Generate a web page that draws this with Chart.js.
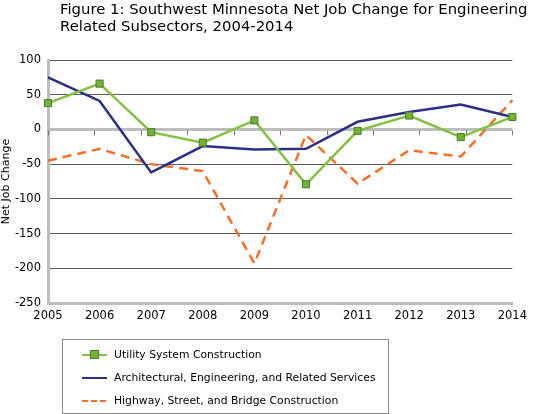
<!DOCTYPE html>
<html>
<head>
<meta charset="utf-8">
<script src="https://cdn.jsdelivr.net/npm/chart.js@4"></script>
<style>
    body { margin: 0; background: #fff; font-family: 'DejaVu Sans', Verdana, sans-serif; }
    #wrap { position: relative; width: 533px; height: 414px; }
    #title { position: absolute; left: 60px; top: 1px; font-size: 14.85px; line-height: 17px; color: #000; }
    #legend { position: absolute; left: 62px; top: 339px; width: 325px; height: 73px; border: 1px solid #888; }
    .row { position: absolute; left: 0; height: 20px; font-size: 10.8px; color: #000; }
    .row span.txt { position: absolute; left: 51px; top: 3px; white-space: nowrap; }
    .sample { position: absolute; left: 19px; top: 9px; width: 25px; height: 0; }
</style>
</head>
<body>
<div id="wrap">
    <canvas id="chart" width="533" height="414"></canvas>
    <div id="title">Figure 1: Southwest Minnesota Net Job Change for Engineering<br>Related Subsectors, 2004-2014</div>
    <div id="legend"></div>
</div>
<script>
const YEARS = ['2005', '2006', '2007', '2008', '2009', '2010', '2011', '2012', '2013', '2014'];

const UTILITY = [38, 66, -4, -19, 13, -79, -2, 20, -11, 18];
const ARCHITECTURAL = [75, 41, -62, -24, -29, -28, 11, 25, 36, 18];
const HIGHWAY = [-45, -28, -50, -60, -193, -8, -78, -30, -39, 42];

const SERIES_NAMES = [
    'Utility System Construction',
    'Architectural, Engineering, and Related Services',
    'Highway, Street, and Bridge Construction'
];

const Y_MIN = -250;
const Y_MAX = 100;
const Y_STEP = 50;

const GREEN = '#84c041';
const GREEN_MARK = '#72b236';
const GREEN_EDGE = '#4e7a2c';
const BLUE = '#2b2f86';
const ORANGE = '#f36f2a';
const AXIS_GRAY = '#bdbdbd';

Chart.defaults.font.family = "'DejaVu Sans', Verdana, sans-serif";
Chart.defaults.color = '#000';

// small tick marks hanging off the zero line, like the original
const zeroTicks = {
    id: 'zeroTicks',
    beforeDatasetsDraw(chart) {
        var ctx = chart.ctx;
        var x = chart.scales.x;
        var y0 = chart.scales.y.getPixelForValue(0);
        ctx.save();
        ctx.strokeStyle = '#777';
        ctx.lineWidth = 1;
        for (let i = 0; i <= 10; i++) {
            var px = Math.round(x.left + i * (x.right - x.left) / 10) + 0.5;
            ctx.beginPath();
            ctx.moveTo(px, y0 + 1);
            ctx.lineTo(px, y0 + 6);
            ctx.stroke();
        }
        ctx.restore();
    }
};

var ctx = document.getElementById('chart').getContext('2d');
var chart = new Chart(ctx, {
    type: 'line',
    data: {
        labels: YEARS,
        datasets: [{
            label: SERIES_NAMES[0],
            data: UTILITY,
            borderColor: GREEN,
            borderWidth: 2.5,
            pointStyle: 'rect',
            pointRadius: 5,
            pointBackgroundColor: GREEN_MARK,
            pointBorderColor: GREEN_EDGE,
            pointBorderWidth: 1,
            lineTension: 0
        }, {
            label: SERIES_NAMES[1],
            data: ARCHITECTURAL,
            borderColor: BLUE,
            borderWidth: 2.5,
            pointRadius: 0,
            lineTension: 0
        }, {
            label: SERIES_NAMES[2],
            data: HIGHWAY,
            borderColor: ORANGE,
            borderWidth: 2.5,
            borderDash: [9, 6],
            pointRadius: 0,
            lineTension: 0
        }]
    },
    options: {
        responsive: false,
        animation: false,
        layout: { padding: { left: 0, right: 18, top: 60, bottom: 89 } },
        plugins: {
            legend: { display: false },
            tooltip: { enabled: false }
        },
        scales: {
            x: {
                offset: false,
                grid: { display: false, drawTicks: false },
                border: { display: true, color: AXIS_GRAY, width: 3 },
                ticks: { font: { size: 11.5 }, padding: 6, maxRotation: 0, autoSkip: false },
                afterFit(scale) { scale.height = 22; }
            },
            y: {
                min: Y_MIN,
                max: Y_MAX,
                grid: {
                    drawTicks: false,
                    color: (c) => c.tick && c.tick.value === 0 ? AXIS_GRAY : '#5a5a5a',
                    lineWidth: (c) => c.tick && c.tick.value === 0 ? 3 : 1
                },
                border: { display: true, color: AXIS_GRAY, width: 3 },
                ticks: { stepSize: Y_STEP, font: { size: 11.5 }, padding: 7 },
                title: { display: true, text: 'Net Job Change', font: { size: 11 }, padding: 0 },
                afterFit(scale) { scale.width = 48; }
            }
        }
    },
    plugins: [zeroTicks]
});

// html legend with a border, built from the series names
var legend = document.getElementById('legend');
var samples = [
    '<div class="sample" style="border-top:2.5px solid ' + GREEN + '"></div>' +
        '<div style="position:absolute;left:27px;top:5px;width:7px;height:7px;background:' + GREEN_MARK + ';border:1px solid ' + GREEN_EDGE + '"></div>',
    '<div class="sample" style="border-top:2.5px solid ' + BLUE + '"></div>',
    '<div class="sample" style="border-top:2.5px dashed ' + ORANGE + ';width:24px;background:none"></div>'
];
for (let i = 0; i < SERIES_NAMES.length; i++) {
    var row = document.createElement('div');
    row.className = 'row';
    row.style.top = (5 + i * 23) + 'px';
    row.style.width = '100%';
    row.innerHTML = samples[i] + '<span class="txt">' + SERIES_NAMES[i] + '</span>';
    legend.appendChild(row);
}
</script>
</body>
</html>
